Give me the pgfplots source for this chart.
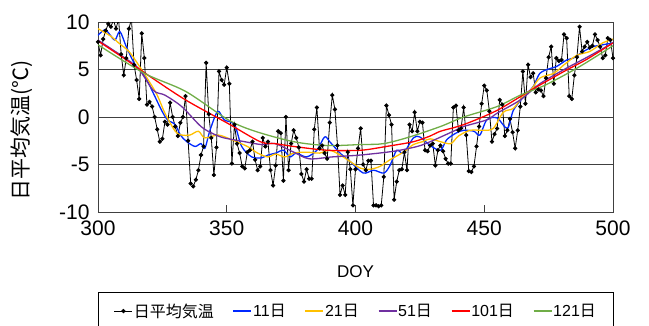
\documentclass[border=0pt]{standalone}
\usepackage{pgfplots}
\pgfplotsset{compat=1.18}
\usepackage{pgfplotstable}
\usepackage{fontspec}
\setmainfont{Liberation Sans}
\newfontfamily\cjk{Noto Sans CJK JP}
\definecolor{cb}{RGB}{0,40,255}
\definecolor{cy}{RGB}{255,192,0}
\definecolor{cp}{RGB}{112,48,160}
\definecolor{cr}{RGB}{255,0,0}
\definecolor{cg}{RGB}{112,173,71}
\pgfplotstableread{
d y
300 7.9
301 6.5
302 8.2
303 9.1
304 9.8
305 9.5
306 10.2
307 9.3
308 10.3
309 6.6
310 4.4
311 6.2
312 9.3
313 10.3
314 5.5
315 3.9
316 1.9
317 8.8
318 6.2
319 1.3
320 1.6
321 1.1
322 0.0
323 -1.3
324 -2.6
325 -2.3
326 -0.5
327 -0.8
328 1.5
329 0.0
330 -1.0
331 -2.0
332 -0.6
333 0.0
334 2.2
335 -2.5
336 -7.0
337 -7.3
338 -6.6
339 -5.6
340 -4.0
341 -3.1
342 5.7
343 0.3
344 -2.2
345 -6.1
346 -3.2
347 4.8
348 3.9
349 3.4
350 5.2
351 3.5
352 -4.9
353 -0.8
354 -2.8
355 -3.8
356 -5.2
357 -5.4
358 -3.7
359 -3.5
360 -2.6
361 -4.5
362 -5.6
363 -5.2
364 -2.2
365 -3.1
366 -2.6
367 -5.6
368 -7.2
369 -5.1
370 -1.5
371 -1.7
372 -6.7
373 0.0
374 -5.6
375 -2.8
376 -1.4
377 -2.2
378 -3.2
379 -6.0
380 -6.8
381 -5.5
382 -6.5
383 -6.5
384 -1.3
385 1.0
386 -3.3
387 -3.0
388 -3.8
389 -4.4
390 -0.6
391 2.3
392 0.8
393 -3.0
394 -8.2
395 -7.2
396 -8.2
397 -3.7
398 -5.5
399 -9.3
400 -5.5
401 -3.3
402 -1.2
403 -5.0
404 -5.6
405 -4.6
406 -4.6
407 -9.3
408 -9.3
409 -9.4
410 -9.3
411 -6.3
412 1.2
413 0.2
414 -0.8
415 -8.7
416 -6.8
417 -5.6
418 -5.5
419 -3.7
420 -5.6
421 -0.8
422 -1.5
423 0.5
424 -1.5
425 -0.5
426 -0.6
427 -3.5
428 -3.6
429 -3.0
430 -2.8
431 -5.1
432 -3.5
433 -3.0
434 -3.6
435 -4.4
436 -4.9
437 -4.9
438 1.0
439 1.2
440 -1.4
441 -1.2
442 1.0
443 -1.9
444 -5.7
445 -5.8
446 -5.2
447 -3.1
448 -1.0
449 1.4
450 3.3
451 2.8
452 0.6
453 -2.6
454 -1.8
455 -1.2
456 1.8
457 1.3
458 -2.0
459 -1.4
460 -0.2
461 -1.6
462 -3.3
463 -1.4
464 1.1
465 4.8
466 1.4
467 5.5
468 4.2
469 4.6
470 2.6
471 2.9
472 2.8
473 2.2
474 4.1
475 6.3
476 7.4
477 3.5
478 6.2
479 5.9
480 6.0
481 8.7
482 8.3
483 2.2
484 1.9
485 4.4
486 6.3
487 9.5
488 6.9
489 7.4
490 7.9
491 7.3
492 7.5
493 8.7
494 8.1
495 7.4
496 6.2
497 6.5
498 8.3
499 8.1
500 6.2
}\daily
\begin{document}
\begin{tikzpicture}
\useasboundingbox (-98pt,-113pt) rectangle (551pt,212pt);
\begin{axis}[
  at={(0pt,0pt)}, anchor=south west,
  scale only axis, width=515pt, height=190pt,
  xmin=300, xmax=500, ymin=-10, ymax=10,
  xtick={300,350,400,450,500}, xticklabels={300,350,400,450,500},
  ytick={-10,-5,0,5,10}, yticklabels={-10,-5,0,5,10},
  ymajorgrids,
  grid style={black!75, line width=0.8pt},
  axis line style={black!75, line width=0.8pt},
  tick align=inside, xtick pos=lower, ytick pos=left,
  major tick length=7pt,
  xtick style={black!75, line width=0.8pt},
  ytick style={draw=none},
  tick label style={font=\fontsize{21}{24}\selectfont},
  yticklabel style={xshift=-5pt},
  xticklabel style={yshift=-5pt},
  xlabel={DOY}, ylabel={\cjk 日平均気温(℃)},
  xlabel style={font=\fontsize{17}{20}\selectfont, at={(axis description cs:0.5,-0.316)}, anchor=center},
  ylabel style={font=\fontsize{21}{24}\selectfont, at={(axis description cs:-0.1476,0.43)}, anchor=center},
  clip=true,
  legend columns=6,
  legend style={at={(0.5,-0.423)}, anchor=north, draw=black,
    font=\fontsize{16}{18}\selectfont, inner xsep=16pt, inner ysep=9pt,
    /tikz/every even column/.append style={column sep=18pt},
    nodes={inner xsep=1pt}},
  legend image code/.code={\draw[#1, mark repeat=2, mark phase=2] plot coordinates {(0pt,0pt) (9pt,0pt) (18pt,0pt)};},
]
\addplot[black, line width=0.8pt, mark=*, mark size=1.7pt] table[x=d,y=y] {\daily};
\addlegendentry{\cjk 日平均気温}
\addplot[color=cb, line width=1.3pt, smooth, tension=0.5] coordinates {(300,8.6)(302.7,9.2)(304.5,8.7)(306.6,8.1)(308.5,9.0)(311,7.4)(314.4,5.5)(318,4.4)(321.5,2.5)(324.7,0.7)(327,-0.3)(330,-0.8)(332,-1.9)(334.5,-2.6)(337.7,-3.1)(340,-2.8)(341.5,-3.3)(343.5,-1.4)(346.5,0.6)(349,-0.3)(353,-0.8)(355.8,-3.1)(359.7,-4.2)(363.5,-4.3)(366,-4.0)(369,-3.8)(372,-3.5)(374.6,-4.2)(377,-3.8)(381,-4.2)(385,-3.5)(388,-2.1)(390,-2.6)(394,-3.8)(398,-4.7)(403,-5.9)(407,-5.6)(411,-5.9)(413.4,-5.1)(416,-3.5)(418.6,-3.8)(422.5,-2.2)(425,-2.1)(429,-3.0)(433,-3.5)(435.4,-2.4)(439,-1.7)(442,-1.4)(446,-1.5)(448.3,-1.9)(451,-0.3)(455,-0.1)(459,-1.2)(461.3,0.7)(465.2,2.1)(469,3.2)(471.6,4.6)(475.5,5.1)(478,5.3)(482,6.0)(484.6,6.2)(488.5,6.9)(492.3,7.4)(496,7.6)(500,7.8)};
\addlegendentry{11\cjk 日}
\addplot[color=cy, line width=1.3pt, smooth, tension=0.5] coordinates {(300,9.3)(305,8.5)(308,7.8)(312,6.9)(315.7,5.5)(319.5,3.9)(323,2.3)(326,0.4)(330,-1.5)(332.5,-1.9)(335.7,-1.9)(339,-1.5)(341.5,-2.2)(346.7,-1.9)(352,-2.4)(358,-3.1)(362,-3.8)(366,-4.2)(369,-3.9)(372.6,-4.2)(376,-3.8)(381,-3.7)(386,-3.8)(390,-3.5)(394,-4.0)(398,-4.7)(402,-5.4)(405.6,-5.5)(409.5,-5.2)(413.4,-4.5)(418.6,-3.7)(422.5,-2.9)(426,-2.6)(429,-2.3)(433,-2.6)(437,-2.8)(440,-2.0)(444.5,-1.4)(449.6,-1.4)(453.5,-1.2)(457.4,0.5)(461.3,0.9)(464.5,2.0)(468,2.8)(471.6,4.1)(477,4.6)(481,5.5)(486,6.5)(491,6.9)(496,7.8)(500,8.2)};
\addlegendentry{21\cjk 日}
\addplot[color=cp, line width=1.3pt, smooth, tension=0.5] coordinates {(300,8.1)(305,7.2)(310,6.3)(315.7,5.1)(321.5,2.8)(326,2.3)(332.5,1.1)(340,-1.0)(345,-1.8)(349,-2.2)(357,-2.6)(363.5,-2.9)(368.7,-2.8)(376,-3.7)(382,-4.4)(391,-4.2)(402,-4.0)(415,-3.6)(424,-3.1)(429,-2.6)(438,-1.5)(442,-1.0)(451,-0.3)(455,0.4)(464,1.8)(471.6,3.5)(481,5.0)(490,6.3)(500,7.8)};
\addlegendentry{51\cjk 日}
\addplot[color=cr, line width=1.3pt, smooth, tension=0.5] coordinates {(300,8.0)(310,6.2)(320,4.3)(334,1.8)(350.6,-0.7)(363,-2.6)(368.7,-2.8)(376,-3.1)(389,-3.5)(402,-3.5)(412,-3.1)(422.5,-2.6)(429,-2.0)(433,-1.5)(442,-0.8)(455,0.7)(468,2.8)(481,4.8)(490,6.1)(500,7.8)};
\addlegendentry{101\cjk 日}
\addplot[color=cg, line width=1.3pt, smooth, tension=0.5] coordinates {(300,7.6)(318,4.6)(334,2.7)(350.6,-0.3)(361,-1.5)(376,-2.6)(389,-3.0)(402,-2.9)(411,-2.8)(421,-2.1)(433,-1.0)(442,0.0)(455,1.1)(464,2.3)(474,3.4)(487,5.3)(500,7.5)};
\addlegendentry{121\cjk 日}
\end{axis}
\end{tikzpicture}
\end{document}
